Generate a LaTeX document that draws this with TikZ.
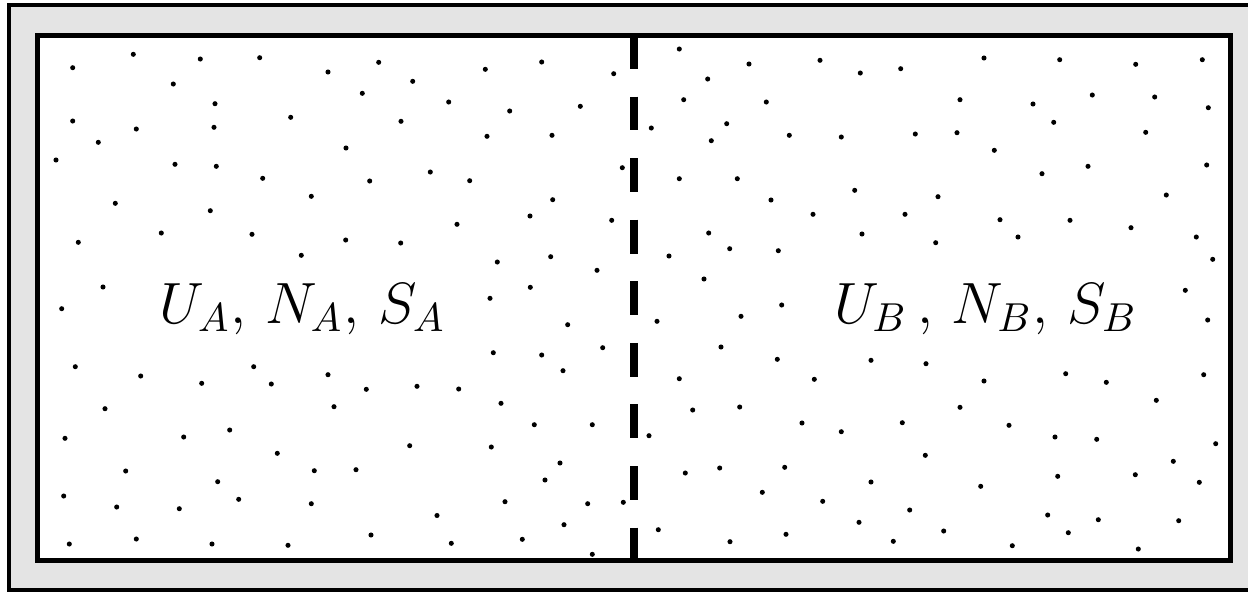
\documentclass[tikz,border=0pt]{standalone}
\definecolor{bggray}{RGB}{228,228,228}
\tikzset{
  outerbox/.style={draw=black, fill=bggray, line width=1.13pt},
  innerbox/.style={draw=black, line width=1.42pt},
  divider/.style={draw=black, line width=2pt, dash pattern=on 9.64pt off 7.87pt},
  dot/.style={fill=black},
  lbl/.style={anchor=base, inner sep=0pt, font=\Large, scale=1.15}
}
\begin{document}
\begin{tikzpicture}[x=0.01cm, y=-0.01cm]
\useasboundingbox (0,0) rectangle (1248,593);
\path[outerbox] (9,5) rectangle (1254,590);
\path[fill=white] (37.5,35) rectangle (1230,560.5);
\coordinate (dtop) at (634,35);
\coordinate (dbot) at (634,560.5);
\draw[divider] (dtop) -- (dbot);
\draw[innerbox] (37.5,35) rectangle (1230,560.5);
\foreach \px/\py in {
72.7/67.7, 133.3/54.3, 200.3/59, 259.7/57.7, 328/72, 378.7/62.3, 412.7/81.3, 173.3/84,
362.3/93.3, 215/103.7, 72.7/121, 136.3/129, 214/127.3, 290.7/117.3, 401/121.3, 98.3/142.3,
56/160, 175/164.3, 216.3/166.3, 346/148, 262.7/178.3, 369.7/181, 430.3/172, 311.3/196.3,
115.3/203.3, 210.3/210.7, 78.3/242.3, 161.3/233, 252/234.3, 345.7/240, 400.7/243, 301.3/255.3,
103/287,
679.3/49, 820/60.3, 749/64, 485.3/69.3, 541.7/62, 613.7/73.7, 707.7/79, 448.7/102,
509.7/111, 580.3/106.3, 683.7/99.7, 766.3/102, 651.3/128, 726.7/123.7, 487/136.3, 552/135.3,
711.3/140.7, 789.3/135.3, 622.3/167.7, 469.7/180.7, 679.3/178.7, 737.3/178.7, 552.7/199.7, 771/200,
530/216, 457/224.3, 611.7/220.3, 813/214.3, 708.7/233, 497.3/262, 550.7/256.7, 729.7/248.7,
778.3/250.7, 669/256, 597/270.3, 704/279, 530.3/287.3, 490/298.3,
860.3/73, 900.7/68.7, 984/58, 1059.7/59.7, 1135.7/64.3, 1202.3/59.7, 960/99.7, 1033/104,
1092.3/95, 1154.7/97, 1208.3/107.7, 1053.7/122.3, 841.3/137, 915.3/134, 957/132.7, 1145.7/132.3,
994.3/150.3, 1042/173.7, 1088/166.3, 1206.7/165, 854.7/190.3, 938/196.7, 1166.3/195, 905/214.3,
1000/219.7, 1070/220.3, 1131/227.7, 862/234, 935.7/242.7, 1018/237, 1196.3/237, 1212.7/259.3,
1185.3/290.3,
61.7/308.7, 75.3/366.7, 140.7/376, 201.7/383.3, 253.7/366.7, 271.3/384, 328/374.7, 366.3/389.3,
417/386.3, 105/408.7, 334/406.7, 65/438.3, 183.7/437, 229.7/430, 409.7/445.7, 277.3/453.3,
125.7/471, 217.7/481.7, 314.3/470.7, 356/469.7, 63.7/496, 116.7/507, 179.3/508.7, 238.7/499.3,
311.3/503.7, 437/515.5, 69.3/544, 136.3/539, 212/544, 288/545.3, 371/535,
567.7/324.7, 657/321.3, 741/316.3, 781.7/305, 493.3/352.7, 541.7/355, 602.7/347.7, 721/347,
777.3/359.3, 563/370.7, 458.7/389, 679.3/378.7, 814.3/379.3, 501/403.3, 692.7/410, 739.7/407,
534.3/424.7, 592.3/424.7, 649/435.7, 802/423, 491.3/447, 560/463, 545/480, 685.3/473,
719.7/468, 784.7/467.3, 762.3/492.3, 505/501.7, 587.7/503.7, 623.3/502.3, 822.7/501.3, 564/524.7,
658.3/529.7, 786/534.3, 451.3/543.3, 522.3/539.3, 730/541.7, 592.3/554.3,
1207.7/320, 871/360.3, 926/363.7, 984/381, 1065.7/373.7, 1106.3/382.3, 1203.7/374.7, 1156.3/400.3,
960/407.3, 841.3/431.7, 902.3/422.7, 1009/425.3, 1055/437, 1096.7/439.3, 1215.7/443.7, 925.3/455.3,
1173.3/461.3, 871/482, 980.7/486.3, 1057.7/476.3, 1135.3/474.7, 1199.3/482.3, 909.7/510, 859/522.3,
1047.7/515, 1098.3/519.7, 1178.7/520.7, 893.3/541.3, 943.7/531, 1068.3/532.7, 1012.3/545.7, 1138.3/549}
  {\fill[dot] (\px,\py) circle[radius=0.72pt];}
\node[lbl] (la) at (302.5,323) {$U_A$, $N_A$, $S_A$};
\node[lbl] (lb) at (985.5,323) {$U_B$\,, $N_B$, $S_B$};
\end{tikzpicture}
\end{document}
